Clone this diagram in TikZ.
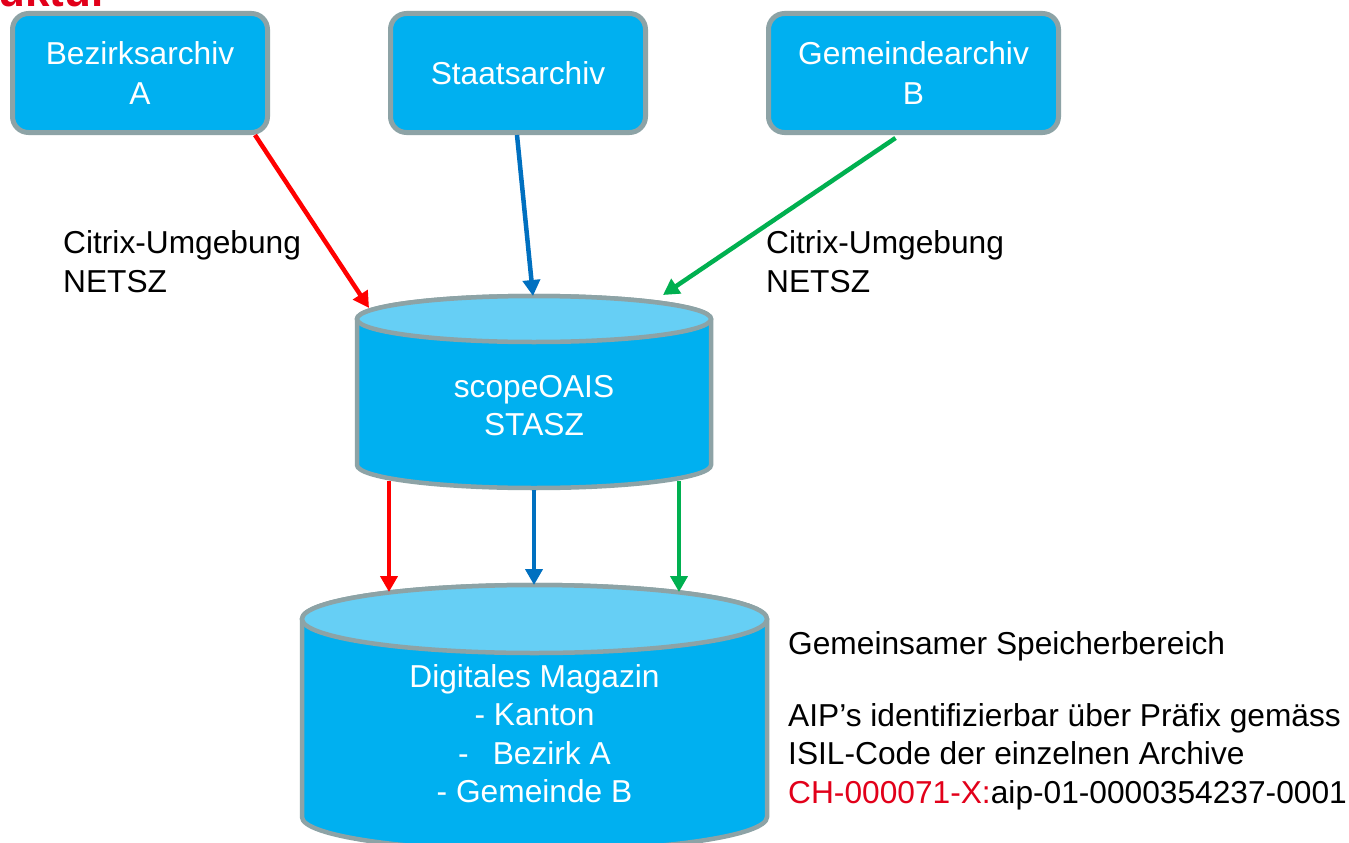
\documentclass[tikz,border=0pt]{standalone}
\usepackage{fontspec}
\setmainfont{Liberation Sans}
\usetikzlibrary{arrows.meta}
\definecolor{boxfill}{RGB}{0,176,240}
\definecolor{toptint}{RGB}{102,207,245}
\definecolor{edge}{RGB}{141,163,166}
\definecolor{ared}{RGB}{255,0,0}
\definecolor{ablue}{RGB}{0,112,192}
\definecolor{agreen}{RGB}{0,176,80}
\definecolor{titlered}{RGB}{226,0,26}
\begin{document}
\begin{tikzpicture}[x=1pt,y=-1pt,
  txt/.style={font=\fontsize{31.7}{38.5}\selectfont, inner sep=0pt},
  archive/.style={draw=edge, line width=5pt, fill=boxfill, rounded corners=16pt,
    text=white, align=center, inner sep=0pt,
    font=\fontsize{31.7}{40}\selectfont, minimum height=119pt},
  cyl/.style={draw=edge, line width=4.5pt, fill=boxfill},
  cyltop/.style={draw=edge, line width=4.5pt, fill=toptint},
  cyltext/.style={txt, text=white, align=center},
  flow/.style={line width=4.5pt, -{Triangle[length=16pt,width=17pt]}},
  note/.style={txt, align=left, anchor=west}]
\fill[white] (0,0) rectangle (1349,843);
\useasboundingbox (0,0) rectangle (1349,843);

% title fragment
\node[anchor=base west, inner sep=0pt, text=titlered,
  font=\bfseries\fontsize{44}{44}\selectfont] (title) at (-2,7) {uktur};

% archive boxes
\node[archive, minimum width=255pt] (bez) at (140,73) {Bezirksarchiv\\A};
\node[archive, minimum width=255pt] (staat) at (518,73) {Staatsarchiv};
\node[archive, minimum width=290pt] (gem) at (913.5,73) {Gemeindearchiv\\B};

% cylinder scopeOAIS
\draw[cyl] (357,319) -- (357,465) arc[start angle=180, end angle=0, x radius=177, y radius=23]
  -- (711,319) arc[start angle=0, end angle=-180, x radius=177, y radius=23] -- cycle;
\draw[cyltop] (534,319) ellipse[x radius=177, y radius=23];
\node[cyltext] (scope) at (534,405.5) {scopeOAIS\\STASZ};

% cylinder Digitales Magazin
\draw[cyl] (302,619) -- (302,817) arc[start angle=180, end angle=0, x radius=232.5, y radius=34]
  -- (767,619) arc[start angle=0, end angle=-180, x radius=232.5, y radius=34] -- cycle;
\draw[cyltop] (534.5,619) ellipse[x radius=232.5, y radius=34];
\node[cyltext] (mag) at (534.5,733.5) {Digitales Magazin\\- Kanton\\-\hspace{24pt}Bezirk A\\- Gemeinde B};

% ports on the cylinders
\coordinate (scopeInR) at (369,308);
\coordinate (scopeInB) at (533,296);
\coordinate (scopeInG) at (663,295);
\coordinate (scopeOutR) at (389,481);
\coordinate (scopeOutB) at (534,490);
\coordinate (scopeOutG) at (679,481);
\coordinate (magInR) at (389,592);
\coordinate (magInB) at (534,585);
\coordinate (magInG) at (679,592);

% connectors
\draw[flow, ared] ([xshift=-15pt]bez.south east) -- (scopeInR);
\draw[flow, ablue] ([xshift=-1pt]staat.south) -- (scopeInB);
\draw[flow, agreen] ([xshift=-18pt,yshift=-3pt]gem.south) -- (scopeInG);
\draw[flow, ared] (scopeOutR) -- (magInR);
\draw[flow, ablue] (scopeOutB) -- (magInB);
\draw[flow, agreen] (scopeOutG) -- (magInG);

% labels
\node[note] (citL) at (63,261.5) {Citrix-Umgebung\\NETSZ};
\node[note] (citR) at (766,261.5) {Citrix-Umgebung\\NETSZ};
\node[txt, anchor=base west] (speicher) at (788,654) {Gemeinsamer Speicherbereich};
\node[note] (aip) at (788,756.4) {AIP’s identifizierbar über Präfix gemäss\\ISIL-Code der einzelnen Archive\\\textcolor{titlered}{CH-000071-X:}aip-01-0000354237-0001};
\end{tikzpicture}
\end{document}
